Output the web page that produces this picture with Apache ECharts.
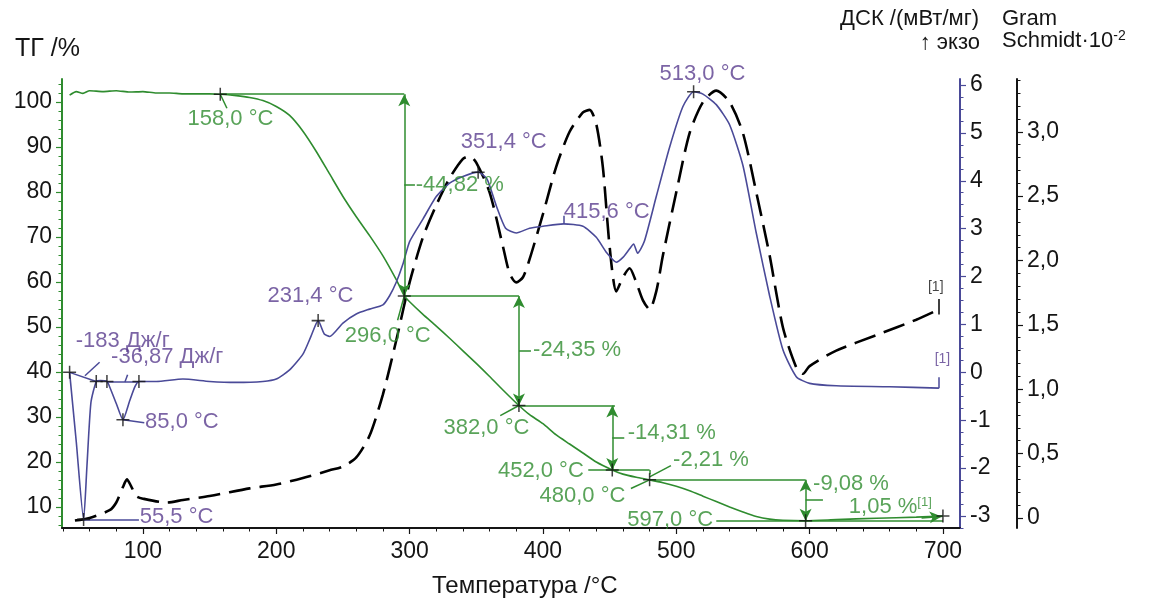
<!DOCTYPE html>
<html>
<head>
<meta charset="utf-8">
<script src="https://cdn.jsdelivr.net/npm/echarts@6/dist/echarts.min.js"></script>
<style>
  html, body { margin: 0; padding: 0; background: #fff; }
  #chart { width: 1175px; height: 601px; }
</style>
</head>
<body>
<div id="chart"></div>
<script>
// ТГ / ДСК / Gram-Schmidt, три оси Y на одной оси температуры
const FONT = '"Liberation Sans", Arial, sans-serif';
const GREEN = '#2f8c2f';
const BLUE = '#4a4a98';
const PURPLE = '#5a3d8e';
const INK = '#151515';

// --- тики осей ---
const xTicks = [100, 200, 300, 400, 500, 600, 700];
const tgTicks = [10, 20, 30, 40, 50, 60, 70, 80, 90, 100];
const dscTicks = [-3, -2, -1, 0, 1, 2, 3, 4, 5, 6];
const gsTicks = [0, 0.5, 1.0, 1.5, 2.0, 2.5, 3.0];

// --- ТГ, % ---
const tgTemp = [45, 50, 55, 60, 70, 80, 90, 100, 110, 120, 130, 140, 150, 158, 170, 180, 190, 200, 210, 220, 230, 240, 250, 260, 270, 280, 290, 296, 300, 310, 320, 330, 340, 350, 360, 370, 382, 390, 400, 410, 420, 430, 440, 452, 460, 470, 480, 490, 500, 510, 520, 530, 540, 550, 560, 570, 580, 597, 620, 650, 680, 700];
const tgMass = [101.5, 102.3, 101.9, 102.5, 102.3, 102.5, 102.2, 102.3, 102.0, 102.0, 101.8, 101.8, 101.8, 101.72, 101.4, 101, 100.3, 99, 97, 93.5, 89, 84, 79, 74.5, 70.3, 65.8, 60.5, 56.9, 55.6, 52.8, 50.2, 47.5, 44.7, 41.9, 39.0, 36.0, 32.55, 30.5, 28.5, 26, 24, 22, 20, 18.24, 17.3, 16.6, 16.03, 15.4, 14.6, 13.6, 12.4, 11.2, 10, 8.9, 7.9, 7.3, 7.05, 6.95, 7.2, 7.5, 7.75, 8.0];

// --- ДСК, мВт/мг ---
const dscTemp = [45, 50, 55.5, 58, 61, 65, 68, 73, 75, 80, 85, 90, 94, 97, 110, 130, 150, 170, 190, 200, 210, 220, 226, 231.4, 236, 240, 250, 260, 270, 280, 285, 290, 295, 300, 310, 320, 330, 340, 351.4, 358, 365, 372, 380, 390, 400, 415.6, 430, 440, 448, 455, 460, 465, 468, 471, 476, 485, 495, 505, 513, 520, 530, 540, 550, 560, 570, 580, 590, 600, 620, 660, 697];
const dscVal = [0, -1.45, -3.07, -1.96, -0.63, -0.19, -0.17, -0.19, -0.3, -0.65, -0.99, -0.6, -0.3, -0.19, -0.19, -0.14, -0.19, -0.21, -0.19, -0.14, 0.05, 0.38, 0.75, 1.08, 0.80, 0.75, 1.03, 1.22, 1.32, 1.41, 1.60, 1.88, 2.26, 2.73, 3.20, 3.67, 3.95, 4.09, 4.18, 4.04, 3.48, 3.01, 2.91, 3.01, 3.05, 3.10, 3.05, 2.82, 2.49, 2.30, 2.40, 2.58, 2.68, 2.49, 2.73, 3.67, 4.70, 5.55, 5.86, 5.81, 5.59, 5.17, 4.32, 2.91, 1.60, 0.47, -0.09, -0.23, -0.28, -0.30, -0.33];

// --- Gram-Schmidt ·10^-2 ---
const gsTemp = [49, 60, 75, 80, 85, 88, 91, 95, 100, 118, 130, 150, 180, 200, 220, 240, 250, 260, 270, 280, 290, 300, 310, 320, 330, 340, 345, 350, 360, 370, 375, 380, 385, 390, 400, 410, 420, 430, 435, 440, 445, 450, 455, 460, 465, 470, 475, 480, 485, 490, 500, 510, 520, 530, 540, 550, 560, 570, 580, 590, 595, 600, 620, 650, 680, 697];
const gsVal = [-0.02, 0.0, 0.06, 0.12, 0.24, 0.30, 0.25, 0.17, 0.15, 0.12, 0.14, 0.17, 0.23, 0.26, 0.31, 0.37, 0.40, 0.47, 0.64, 0.96, 1.38, 1.83, 2.18, 2.43, 2.64, 2.79, 2.81, 2.76, 2.53, 2.11, 1.90, 1.83, 1.87, 2.01, 2.36, 2.73, 3.00, 3.15, 3.17, 3.06, 2.72, 2.11, 1.76, 1.87, 1.94, 1.83, 1.69, 1.62, 1.76, 2.04, 2.53, 2.99, 3.23, 3.32, 3.23, 2.99, 2.53, 2.04, 1.48, 1.17, 1.12, 1.18, 1.30, 1.42, 1.54, 1.62];

// --- отметки "+" ---
const tgMarks = [[158, 101.72], [296, 56.9], [382, 32.55], [452, 18.24], [480, 16.03], [597, 6.95], [700, 8.0]];
const dscMarks = [[45, 0], [55.5, -3.07], [65, -0.19], [73, -0.19], [85, -0.99], [97, -0.19], [231.4, 1.08], [351.4, 4.18], [513, 5.86]];

// --- линии разметки ступеней ТГ [x1, y1, x2, y2] ---
const tgSteps = [
  [158, 101.72, 296, 101.72], [296, 56.9, 382, 56.9], [382, 32.55, 454, 32.55],
  [434, 18.24, 480, 18.24], [480, 18.24, 480, 17.3], [480, 16.03, 597, 16.03], [530, 6.95, 700, 6.95],
  [158, 101.72, 163, 98.6], [296, 56.9, 291, 51.5], [382, 32.55, 368, 30.3], [480, 16.03, 466, 14.1], [480, 16.7, 496, 19.2],
  [296, 81.5, 304, 81.5], [382, 44.7, 391, 44.7], [452, 25.4, 461, 25.4], [597, 11.5, 610, 11.5]
];
const tgArrows = [[296, 101.72, 296, 56.9], [382, 56.9, 382, 32.55], [452, 32.55, 452, 18.24], [597, 16.03, 597, 6.95]];
const tgEndArrow = [[684, 7.55, 699, 7.9]];
const dscLines = [
  [45, 0, 65, -0.19], [73, -0.19, 97, -0.19],
  [56.5, -0.07, 67.5, 0.21], [86.5, -0.2, 88.5, -0.05],
  [85, -0.99, 101, -1.05], [55.5, -3.07, 97, -3.07],
  [415.6, 3.1, 415.6, 3.27], [697, -0.33, 697, -0.1]
];
const gsLines = [[697, 1.58, 697, 1.7]];

// --- подписи [x, y, текст, выравнивание] ---
const tgNotes = [
  [166, 96.2, '158,0 °C', 'center'], [305, 81.5, '-44,82 %', 'left'], [284, 47.8, '296,0 °C', 'center'],
  [393, 44.7, '-24,35 %', 'left'], [358, 27.5, '382,0 °C', 'center'], [464, 26.4, '-14,31 %', 'left'],
  [431, 18.0, '452,0 °C', 'right'], [498, 20.4, '-2,21 %', 'left'], [430, 12.4, '480,0 °C', 'center'],
  [528, 7.1, '597,0 °C', 'right'], [603, 15.1, '-9,08 %', 'left'], [692, 10.0, '1,05 %{s|[1]}', 'right']
];
const dscNotes = [
  [50, 0.65, '-183 Дж/г', 'left'], [76.5, 0.31, '-36,87 Дж/г', 'left'], [102, -1.05, '85,0 °C', 'left'],
  [98, -3.03, '55,5 °C', 'left'], [226, 1.58, '231,4 °C', 'center'], [371, 4.8, '351,4 °C', 'center'],
  [416, 3.33, '415,6 °C', 'left'], [520, 6.22, '513,0 °C', 'center'], [700, 0.26, '[1]', 'center']
];
const gsNotes = [[695, 1.79, '[1]', 'center']];

function pairs(xs, ys) { return xs.map((x, i) => [x, ys[i]]); }
function minorOf(min, max, step, majors) {
  const out = [];
  for (let v = Math.ceil(min / step) * step; v <= max + 1e-9; v += step) {
    const r = Math.round(v * 1000) / 1000;
    if (!majors.some(m => Math.abs(m - r) < 1e-6)) out.push(r);
  }
  return out;
}

const xMin = 39.3, xMax = 712.8;
const tgMin = 5.33, tgMax = 105.1;
const dscMin = -3.25, dscMax = 6.125;
const gsMin = -0.078, gsMax = 3.41;

const labelStyle = { fontFamily: FONT, fontSize: 23, color: INK };

function mainY(pos, min, max, ticks, color, offset, fmt) {
  return {
    type: 'value', position: pos, offset: offset, min: min, max: max,
    axisLine: { show: true, onZero: false, lineStyle: { color: color, width: 2 } },
    axisTick: { show: true, customValues: ticks, length: 6, lineStyle: { color: color, width: 1.2 } },
    axisLabel: Object.assign({ customValues: ticks, margin: 10, formatter: fmt }, labelStyle),
    splitLine: { show: false }
  };
}
function minorY(pos, min, max, ticks, color, offset) {
  return {
    type: 'value', position: pos, offset: offset, min: min, max: max,
    axisLine: { show: false, onZero: false },
    axisTick: { show: true, customValues: ticks, length: 3.5, lineStyle: { color: color, width: 1 } },
    axisLabel: { show: false }, splitLine: { show: false }
  };
}

function segData(list, arrows, endOnly) {
  return list.map(([x1, y1, x2, y2]) => arrows
    ? [{ coord: [x1, y1], symbol: endOnly ? 'none' : 'arrow', symbolSize: [9, 12] }, { coord: [x2, y2], symbol: 'arrow', symbolSize: [9, 12] }]
    : [{ coord: [x1, y1] }, { coord: [x2, y2] }]);
}
function markLines(list, color, arrows, endArrows) {
  return {
    silent: true, animation: false, symbol: 'none', label: { show: false },
    lineStyle: { color: color, width: 1.5, type: 'solid' },
    emphasis: { disabled: true },
    data: segData(list, false).concat(segData(arrows || [], true), segData(endArrows || [], true, true))
  };
}

const CROSS = 'path://M0,5.3 H12 V6.7 H0 Z M5.3,0 H6.7 V12 H5.3 Z';
function crossSeries(list, yIdx) {
  return {
    type: 'scatter', yAxisIndex: yIdx, data: list, symbol: CROSS, symbolSize: 13,
    itemStyle: { color: '#111' }, silent: true, clip: false, z: 6
  };
}
function textSeries(list, yIdx, color) {
  return {
    type: 'scatter', yAxisIndex: yIdx, symbolSize: 1, itemStyle: { color: 'rgba(0,0,0,0)' },
    silent: true, clip: false, z: 7,
    data: list.map(([x, y, t, a]) => ({
      value: [x, y],
      label: {
        show: true, position: [0, 0], formatter: t, align: a, verticalAlign: 'middle',
        fontFamily: FONT, fontSize: t === '[1]' ? 14 : 22, color: color,
        rich: { s: { fontSize: 13, fontFamily: FONT, color: color, verticalAlign: 'top', padding: [0, 0, 8, 0] } }
      }
    }))
  };
}

const chart = echarts.init(document.getElementById('chart'), null, { renderer: 'canvas' });
chart.setOption({
  animation: false,
  backgroundColor: '#fff',
  grid: { left: 62, right: 215, top: 79, bottom: 73, containLabel: false },
  xAxis: [
    {
      type: 'value', min: xMin, max: xMax, position: 'bottom',
      axisLine: { onZero: false, lineStyle: { color: INK, width: 2 } },
      axisTick: { customValues: xTicks, length: 6, lineStyle: { color: INK, width: 1.2 } },
      axisLabel: Object.assign({ customValues: xTicks, margin: 12 }, labelStyle),
      splitLine: { show: false }
    },
    {
      type: 'value', min: xMin, max: xMax, position: 'bottom',
      axisLine: { show: false, onZero: false },
      axisTick: { customValues: minorOf(xMin, xMax, 20, xTicks), length: 3.5, lineStyle: { color: INK, width: 1 } },
      axisLabel: { show: false }, splitLine: { show: false }
    }
  ],
  yAxis: [
    mainY('left', tgMin, tgMax, tgTicks, GREEN, 0, v => String(v)),
    mainY('right', dscMin, dscMax, dscTicks, BLUE, 0, v => String(v)),
    mainY('right', gsMin, gsMax, gsTicks, INK, 57, v => v === 0 ? '0' : v.toFixed(1).replace('.', ',')),
    minorY('left', tgMin, tgMax, minorOf(tgMin, tgMax, 2, tgTicks), GREEN, 0),
    minorY('right', dscMin, dscMax, minorOf(dscMin, dscMax, 0.25, dscTicks), BLUE, 0),
    minorY('right', gsMin, gsMax, minorOf(gsMin, gsMax, 0.1, gsTicks), INK, 57)
  ],
  graphic: [
    { type: 'text', left: 15, top: 37, style: { text: 'ТГ /%', font: '25px ' + FONT, fill: INK } },
    { type: 'text', right: 196, top: 8, style: { text: 'ДСК /(мВт/мг)', font: '22px ' + FONT, fill: INK } },
    { type: 'text', right: 195, top: 32, style: { text: '↑ экзо', font: '22px ' + FONT, fill: INK } },
    { type: 'text', left: 1002, top: 8, style: { text: 'Gram', font: '22px ' + FONT, fill: INK } },
    {
      type: 'text', left: 1002, top: 29,
      style: {
        text: 'Schmidt·10{s|-2}', font: '22px ' + FONT, fill: INK,
        rich: { s: { fontSize: 14, fontFamily: FONT, fill: INK, verticalAlign: 'top', padding: [0, 0, 10, 0] } }
      }
    },
    { type: 'text', left: 432, top: 574, style: { text: 'Температура /°C', font: '24px ' + FONT, fill: INK } }
  ],
  series: [
    {
      name: 'ТГ', type: 'line', xAxisIndex: 0, yAxisIndex: 0, data: pairs(tgTemp, tgMass),
      symbol: 'none', smooth: 0.2, z: 3,
      lineStyle: { color: GREEN, width: 1.6 },
      markLine: markLines(tgSteps, GREEN, tgArrows, tgEndArrow)
    },
    {
      name: 'ДСК', type: 'line', xAxisIndex: 0, yAxisIndex: 1, data: pairs(dscTemp, dscVal),
      symbol: 'none', smooth: 0.2, z: 3,
      lineStyle: { color: BLUE, width: 1.6 },
      markLine: markLines(dscLines, BLUE)
    },
    {
      name: 'Gram-Schmidt', type: 'line', xAxisIndex: 0, yAxisIndex: 2, data: pairs(gsTemp, gsVal),
      symbol: 'none', smooth: 0.25, z: 2,
      lineStyle: { color: '#000', width: 2.6, type: [22, 9] },
      markLine: markLines(gsLines, '#000')
    },
    crossSeries(tgMarks, 0),
    crossSeries(dscMarks, 1),
    textSeries(tgNotes, 0, GREEN),
    textSeries(dscNotes, 1, PURPLE),
    textSeries(gsNotes, 2, INK)
  ]
});
</script>
</body>
</html>
